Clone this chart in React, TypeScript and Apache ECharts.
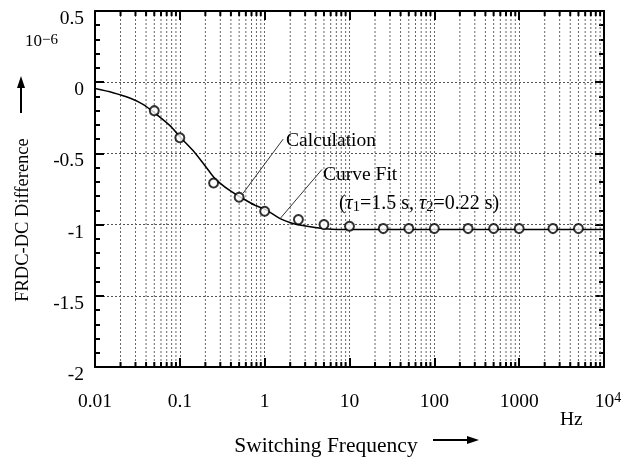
import React, { useEffect, useRef } from 'react';
import * as echarts from 'echarts';

// Curve fit (solid line)
const fitFreq = [0.01, 0.0163, 0.0257, 0.0368, 0.0528, 0.0759, 0.104, 0.143, 0.2, 0.25, 0.3, 0.391, 0.52, 0.78, 1.04, 1.52, 2.1, 2.8, 4.8, 7, 10, 100, 1000, 10000];
const fitValue = [-0.045, -0.074, -0.111, -0.155, -0.225, -0.303, -0.393, -0.48, -0.59, -0.665, -0.71, -0.762, -0.808, -0.866, -0.896, -0.958, -0.99, -1.007, -1.028, -1.034, -1.035, -1.035, -1.035, -1.035];

// Calculation (open circles)
const calcFreq = [0.05, 0.1, 0.25, 0.5, 1, 2.5, 5, 10, 25, 50, 100, 250, 500, 1000, 2500, 5000];
const calcValue = [-0.2, -0.39, -0.708, -0.808, -0.906, -0.965, -1.0, -1.012, -1.028, -1.028, -1.028, -1.028, -1.028, -1.028, -1.028, -1.028];

// Axis tick structure
const decades = [0.01, 0.1, 1, 10, 100, 1000];
const minorMultipliers = [2, 3, 4, 5, 6, 7, 8, 9];
const xTickLabels = ['0.01', '0.1', '1', '10', '100', '1000', '10^4'];
const yMin = -2;
const yMax = 0.5;
const yStep = 0.5;

const FONT = 'Liberation Serif';

export default function App() {
  const ref = useRef<HTMLDivElement>(null);
  useEffect(() => {
    const chart = echarts.init(ref.current!, null, { renderer: 'svg' });
    const minorFreq: number[] = [];
    decades.forEach((d) => minorMultipliers.forEach((m) => minorFreq.push(+(d * m).toPrecision(6))));

    const xLabel = (v: number) => {
      const e = Math.round(Math.log10(v));
      const s = xTickLabels[e + 2];
      if (s === '10^4') return '{n|10}{s|4}';
      return s;
    };

    const axisLine = { show: true, onZero: false, lineStyle: { color: '#000', width: 2 } };
    const axisTick = { show: true, inside: true, length: 9, lineStyle: { color: '#000', width: 2 } };

    const option: any = {
      animation: false,
      grid: { left: 95, right: 27, top: 11, bottom: 92 },
      xAxis: [
        {
          type: 'log',
          logBase: 10,
          min: 0.01,
          max: 10000,
          splitNumber: 6,
          position: 'bottom',
          axisLine,
          axisTick,
          axisLabel: {
            color: '#000',
            fontFamily: FONT,
            fontSize: 19.5,
            margin: 23,
            formatter: xLabel,
            rich: {
              n: { fontFamily: FONT, fontSize: 19.5, color: '#000', padding: [0, 0, 0, 8] },
              s: { fontFamily: FONT, fontSize: 14, color: '#000', verticalAlign: 'top' },
            },
          },
          splitLine: { show: true, lineStyle: { color: '#666', width: 1, type: [2, 2] } },
        },
        {
          type: 'log',
          logBase: 10,
          min: 0.01,
          max: 10000,
          splitNumber: 6,
          position: 'top',
          axisLine,
          axisTick,
          axisLabel: { show: false },
          splitLine: { show: false },
        },
      ],
      yAxis: [
        {
          type: 'value',
          min: yMin,
          max: yMax,
          interval: yStep,
          position: 'left',
          axisLine,
          axisTick,
          minorTick: { show: true, splitNumber: 5, length: 5, lineStyle: { color: '#000', width: 2 } },
          axisLabel: {
            color: '#000',
            fontFamily: FONT,
            fontSize: 19.5,
            margin: 11,
            verticalAlign: 'top',
            lineHeight: 13,
            formatter: (v: number) => (Math.abs(v) < 1e-9 ? '0' : String(+v.toFixed(2))),
          },
          splitLine: { show: true, lineStyle: { color: '#555', width: 1, type: [2, 2] } },
        },
        {
          type: 'value',
          min: yMin,
          max: yMax,
          interval: yStep,
          position: 'right',
          axisLine,
          axisTick,
          minorTick: { show: true, splitNumber: 5, length: 5, lineStyle: { color: '#000', width: 2 } },
          axisLabel: { show: false },
          splitLine: { show: false },
        },
      ],
      series: [
        {
          type: 'custom',
          xAxisIndex: 0,
          yAxisIndex: 0,
          data: minorFreq.map((f) => [f]),
          encode: { x: 0 },
          silent: true,
          z: 1,
          renderItem: (params: any, api: any) => {
            const f = api.value(0);
            const top = api.coord([f, yMax]);
            const bot = api.coord([f, yMin]);
            return {
              type: 'group',
              children: [
                { type: 'line', shape: { x1: top[0], y1: top[1], x2: bot[0], y2: bot[1] }, style: { stroke: '#666', lineWidth: 1, lineDash: [2, 2] } },
                { type: 'line', shape: { x1: top[0], y1: top[1], x2: top[0], y2: top[1] + 5 }, style: { stroke: '#000', lineWidth: 2 } },
                { type: 'line', shape: { x1: bot[0], y1: bot[1], x2: bot[0], y2: bot[1] - 5 }, style: { stroke: '#000', lineWidth: 2 } },
              ],
            };
          },
        },
        {
          name: 'Curve Fit',
          type: 'line',
          data: fitFreq.map((f, i) => [f, fitValue[i]]),
          smooth: 0.3,
          showSymbol: false,
          symbol: 'none',
          lineStyle: { color: '#000', width: 1.5 },
          z: 3,
        },
        {
          name: 'Calculation',
          type: 'scatter',
          data: calcFreq.map((f, i) => [f, calcValue[i]]),
          symbol: 'circle',
          symbolSize: 9,
          itemStyle: { color: '#fff', borderColor: '#000', borderWidth: 2 },
          z: 4,
        },
      ],
    };
    chart.setOption(option);

    const px = (f: number, v: number) => chart.convertToPixel({ xAxisIndex: 0, yAxisIndex: 0 }, [f, v]) as number[];
    const c1 = px(0.556, -0.78);
    const c2 = px(1.65, -0.4);
    const f1 = px(1.52, -0.958);
    const f2 = px(4.75, -0.612);
    const tau = px(7.5, -0.844);
    const textStyle = (text: string, size: number, extra: any = {}) => ({
      text,
      font: `${size}px "${FONT}"`,
      fill: '#000',
      align: 'left',
      verticalAlign: 'middle',
      ...extra,
    });

    chart.setOption({
      graphic: [
        { type: 'line', shape: { x1: c1[0], y1: c1[1], x2: c2[0], y2: c2[1] }, style: { stroke: '#333', lineWidth: 1 }, z: 10 },
        { type: 'text', x: c2[0] + 3, y: c2[1], style: textStyle('Calculation', 19.5), z: 10 },
        { type: 'line', shape: { x1: f1[0], y1: f1[1], x2: f2[0], y2: f2[1] }, style: { stroke: '#333', lineWidth: 1 }, z: 10 },
        { type: 'text', x: f2[0] + 1, y: f2[1] + 4, style: textStyle('Curve Fit', 19.5), z: 10 },
        {
          type: 'text',
          x: tau[0],
          y: tau[1],
          z: 10,
          style: textStyle('({t|τ}{b|1}=1.5 s, {t|τ}{b|2}=0.22 s)', 20, {
            rich: {
              t: { fontFamily: FONT, fontSize: 20, fontStyle: 'italic', fill: '#000' },
              b: { fontFamily: FONT, fontSize: 14.5, fill: '#000', verticalAlign: 'bottom', padding: [8, 0, 0, 0] },
            },
          }),
        },
        {
          type: 'text',
          x: 25,
          y: 40,
          z: 10,
          style: textStyle('{n|10}{s|−6}', 17, {
            rich: {
              n: { fontFamily: FONT, fontSize: 17, fill: '#000' },
              s: { fontFamily: FONT, fontSize: 15, fill: '#000', verticalAlign: 'top' },
            },
          }),
        },
        {
          type: 'text',
          x: 22,
          y: 220,
          rotation: Math.PI / 2,
          z: 10,
          style: textStyle('FRDC-DC Difference', 18.5, { align: 'center' }),
        },
        {
          type: 'text',
          x: 326,
          y: 445,
          z: 10,
          style: textStyle('Switching Frequency', 21.5, { align: 'center' }),
        },
        { type: 'text', x: 560, y: 418, z: 10, style: textStyle('Hz', 19.5) },
        { type: 'line', shape: { x1: 21, y1: 113, x2: 21, y2: 85 }, style: { stroke: '#000', lineWidth: 2 }, z: 10 },
        { type: 'polygon', shape: { points: [[21, 76], [17, 88], [25, 88]] }, style: { fill: '#000' }, z: 10 },
        { type: 'line', shape: { x1: 433, y1: 440, x2: 470, y2: 440 }, style: { stroke: '#000', lineWidth: 2 }, z: 10 },
        { type: 'polygon', shape: { points: [[479, 440], [467, 436], [467, 444]] }, style: { fill: '#000' }, z: 10 },
      ],
    });
    return () => chart.dispose();
  }, []);
  return <div ref={ref} style={{ position: 'fixed', left: 0, top: 0, width: 631, height: 459 }} />;
}
